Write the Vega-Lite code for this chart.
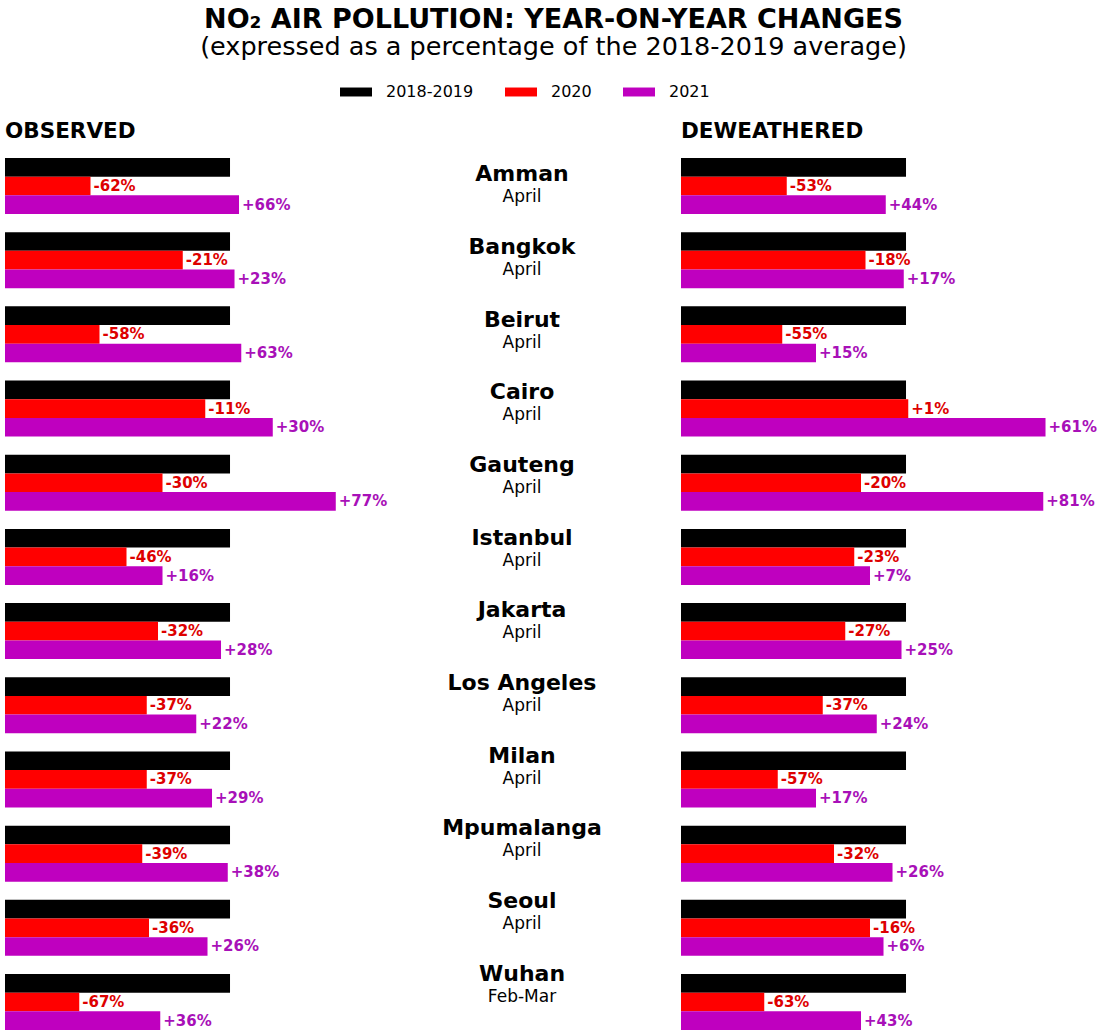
{
  "$schema": "https://vega.github.io/schema/vega-lite/v6.json",
  "autosize": {"type": "pad"},
  "padding": {"left": 5, "top": 5, "right": 0, "bottom": 0},
  "bounds": "flush",
  "spacing": 0,
  "config": {
    "view": {"stroke": null},
    "font": "DejaVu Sans",
    "concat": {"spacing": 0}
  },
  "title": {
    "text": "NO₂ AIR POLLUTION: YEAR-ON-YEAR CHANGES",
    "subtitle": "(expressed as a percentage of the 2018-2019 average)",
    "font": "DejaVu Sans",
    "fontSize": 27,
    "fontWeight": "bold",
    "color": "#000000",
    "subtitleFont": "DejaVu Sans",
    "subtitleFontSize": 25.5,
    "subtitleColor": "#000000",
    "subtitlePadding": 1,
    "anchor": "middle",
    "offset": 15
  },
  "datasets": {
    "bars": [
      {"panel": "Observed", "city": "Amman", "series": "2018-2019", "value": 100, "label": ""},
      {"panel": "Observed", "city": "Amman", "series": "2020", "value": 38, "label": "-62%"},
      {"panel": "Observed", "city": "Amman", "series": "2021", "value": 104, "label": "+66%"},
      {"panel": "Observed", "city": "Bangkok", "series": "2018-2019", "value": 100, "label": ""},
      {"panel": "Observed", "city": "Bangkok", "series": "2020", "value": 79, "label": "-21%"},
      {"panel": "Observed", "city": "Bangkok", "series": "2021", "value": 102, "label": "+23%"},
      {"panel": "Observed", "city": "Beirut", "series": "2018-2019", "value": 100, "label": ""},
      {"panel": "Observed", "city": "Beirut", "series": "2020", "value": 42, "label": "-58%"},
      {"panel": "Observed", "city": "Beirut", "series": "2021", "value": 105, "label": "+63%"},
      {"panel": "Observed", "city": "Cairo", "series": "2018-2019", "value": 100, "label": ""},
      {"panel": "Observed", "city": "Cairo", "series": "2020", "value": 89, "label": "-11%"},
      {"panel": "Observed", "city": "Cairo", "series": "2021", "value": 119, "label": "+30%"},
      {"panel": "Observed", "city": "Gauteng", "series": "2018-2019", "value": 100, "label": ""},
      {"panel": "Observed", "city": "Gauteng", "series": "2020", "value": 70, "label": "-30%"},
      {"panel": "Observed", "city": "Gauteng", "series": "2021", "value": 147, "label": "+77%"},
      {"panel": "Observed", "city": "Istanbul", "series": "2018-2019", "value": 100, "label": ""},
      {"panel": "Observed", "city": "Istanbul", "series": "2020", "value": 54, "label": "-46%"},
      {"panel": "Observed", "city": "Istanbul", "series": "2021", "value": 70, "label": "+16%"},
      {"panel": "Observed", "city": "Jakarta", "series": "2018-2019", "value": 100, "label": ""},
      {"panel": "Observed", "city": "Jakarta", "series": "2020", "value": 68, "label": "-32%"},
      {"panel": "Observed", "city": "Jakarta", "series": "2021", "value": 96, "label": "+28%"},
      {"panel": "Observed", "city": "Los Angeles", "series": "2018-2019", "value": 100, "label": ""},
      {"panel": "Observed", "city": "Los Angeles", "series": "2020", "value": 63, "label": "-37%"},
      {"panel": "Observed", "city": "Los Angeles", "series": "2021", "value": 85, "label": "+22%"},
      {"panel": "Observed", "city": "Milan", "series": "2018-2019", "value": 100, "label": ""},
      {"panel": "Observed", "city": "Milan", "series": "2020", "value": 63, "label": "-37%"},
      {"panel": "Observed", "city": "Milan", "series": "2021", "value": 92, "label": "+29%"},
      {"panel": "Observed", "city": "Mpumalanga", "series": "2018-2019", "value": 100, "label": ""},
      {"panel": "Observed", "city": "Mpumalanga", "series": "2020", "value": 61, "label": "-39%"},
      {"panel": "Observed", "city": "Mpumalanga", "series": "2021", "value": 99, "label": "+38%"},
      {"panel": "Observed", "city": "Seoul", "series": "2018-2019", "value": 100, "label": ""},
      {"panel": "Observed", "city": "Seoul", "series": "2020", "value": 64, "label": "-36%"},
      {"panel": "Observed", "city": "Seoul", "series": "2021", "value": 90, "label": "+26%"},
      {"panel": "Observed", "city": "Wuhan", "series": "2018-2019", "value": 100, "label": ""},
      {"panel": "Observed", "city": "Wuhan", "series": "2020", "value": 33, "label": "-67%"},
      {"panel": "Observed", "city": "Wuhan", "series": "2021", "value": 69, "label": "+36%"},
      {"panel": "Deweathered", "city": "Amman", "series": "2018-2019", "value": 100, "label": ""},
      {"panel": "Deweathered", "city": "Amman", "series": "2020", "value": 47, "label": "-53%"},
      {"panel": "Deweathered", "city": "Amman", "series": "2021", "value": 91, "label": "+44%"},
      {"panel": "Deweathered", "city": "Bangkok", "series": "2018-2019", "value": 100, "label": ""},
      {"panel": "Deweathered", "city": "Bangkok", "series": "2020", "value": 82, "label": "-18%"},
      {"panel": "Deweathered", "city": "Bangkok", "series": "2021", "value": 99, "label": "+17%"},
      {"panel": "Deweathered", "city": "Beirut", "series": "2018-2019", "value": 100, "label": ""},
      {"panel": "Deweathered", "city": "Beirut", "series": "2020", "value": 45, "label": "-55%"},
      {"panel": "Deweathered", "city": "Beirut", "series": "2021", "value": 60, "label": "+15%"},
      {"panel": "Deweathered", "city": "Cairo", "series": "2018-2019", "value": 100, "label": ""},
      {"panel": "Deweathered", "city": "Cairo", "series": "2020", "value": 101, "label": "+1%"},
      {"panel": "Deweathered", "city": "Cairo", "series": "2021", "value": 162, "label": "+61%"},
      {"panel": "Deweathered", "city": "Gauteng", "series": "2018-2019", "value": 100, "label": ""},
      {"panel": "Deweathered", "city": "Gauteng", "series": "2020", "value": 80, "label": "-20%"},
      {"panel": "Deweathered", "city": "Gauteng", "series": "2021", "value": 161, "label": "+81%"},
      {"panel": "Deweathered", "city": "Istanbul", "series": "2018-2019", "value": 100, "label": ""},
      {"panel": "Deweathered", "city": "Istanbul", "series": "2020", "value": 77, "label": "-23%"},
      {"panel": "Deweathered", "city": "Istanbul", "series": "2021", "value": 84, "label": "+7%"},
      {"panel": "Deweathered", "city": "Jakarta", "series": "2018-2019", "value": 100, "label": ""},
      {"panel": "Deweathered", "city": "Jakarta", "series": "2020", "value": 73, "label": "-27%"},
      {"panel": "Deweathered", "city": "Jakarta", "series": "2021", "value": 98, "label": "+25%"},
      {"panel": "Deweathered", "city": "Los Angeles", "series": "2018-2019", "value": 100, "label": ""},
      {"panel": "Deweathered", "city": "Los Angeles", "series": "2020", "value": 63, "label": "-37%"},
      {"panel": "Deweathered", "city": "Los Angeles", "series": "2021", "value": 87, "label": "+24%"},
      {"panel": "Deweathered", "city": "Milan", "series": "2018-2019", "value": 100, "label": ""},
      {"panel": "Deweathered", "city": "Milan", "series": "2020", "value": 43, "label": "-57%"},
      {"panel": "Deweathered", "city": "Milan", "series": "2021", "value": 60, "label": "+17%"},
      {"panel": "Deweathered", "city": "Mpumalanga", "series": "2018-2019", "value": 100, "label": ""},
      {"panel": "Deweathered", "city": "Mpumalanga", "series": "2020", "value": 68, "label": "-32%"},
      {"panel": "Deweathered", "city": "Mpumalanga", "series": "2021", "value": 94, "label": "+26%"},
      {"panel": "Deweathered", "city": "Seoul", "series": "2018-2019", "value": 100, "label": ""},
      {"panel": "Deweathered", "city": "Seoul", "series": "2020", "value": 84, "label": "-16%"},
      {"panel": "Deweathered", "city": "Seoul", "series": "2021", "value": 90, "label": "+6%"},
      {"panel": "Deweathered", "city": "Wuhan", "series": "2018-2019", "value": 100, "label": ""},
      {"panel": "Deweathered", "city": "Wuhan", "series": "2020", "value": 37, "label": "-63%"},
      {"panel": "Deweathered", "city": "Wuhan", "series": "2021", "value": 80, "label": "+43%"}
    ],
    "cities": [
      {"city": "Amman", "month": "April"},
      {"city": "Bangkok", "month": "April"},
      {"city": "Beirut", "month": "April"},
      {"city": "Cairo", "month": "April"},
      {"city": "Gauteng", "month": "April"},
      {"city": "Istanbul", "month": "April"},
      {"city": "Jakarta", "month": "April"},
      {"city": "Los Angeles", "month": "April"},
      {"city": "Milan", "month": "April"},
      {"city": "Mpumalanga", "month": "April"},
      {"city": "Seoul", "month": "April"},
      {"city": "Wuhan", "month": "Feb-Mar"}
    ]
  },
  "hconcat": [
    {
      "width": 358,
      "height": 872,
      "title": {"text": "OBSERVED", "anchor": "start", "fontSize": 21.5, "fontWeight": "bold", "color": "#000000", "font": "DejaVu Sans", "offset": 16},
      "data": {"name": "bars"},
      "transform": [{"filter": "datum.panel == 'Observed'"}],
      "layer": [
        {
          "mark": {"type": "bar"},
          "encoding": {
            "y": {"field": "city", "type": "nominal", "sort": null, "axis": null, "scale": {"paddingInner": 0.245, "paddingOuter": 0}},
            "yOffset": {"field": "series", "type": "nominal", "scale": {"paddingInner": 0, "paddingOuter": 0}},
            "x": {"field": "value", "type": "quantitative", "axis": null, "scale": {"domain": [0, 159.1], "nice": false}},
            "color": {"field": "series", "type": "nominal", "scale": {"domain": ["2018-2019", "2020", "2021"], "range": ["#000000", "#ff0000", "#bf00bf"]},
              "legend": {"orient": "none", "legendX": 335, "legendY": -82, "direction": "horizontal", "title": null, "symbolType": "M-1,-0.28H1V0.28H-1Z", "symbolSize": 1024, "symbolStrokeWidth": 0, "labelFontSize": 16, "labelFont": "DejaVu Sans", "labelColor": "#000000", "labelOffset": 14, "columnPadding": 31, "padding": 0}}
          }
        },
        {
          "transform": [{"filter": "datum.label != ''"}],
          "mark": {"type": "text", "align": "left", "baseline": "middle", "dx": 3, "fontSize": 15, "fontWeight": "bold", "font": "DejaVu Sans"},
          "encoding": {
            "y": {"field": "city", "type": "nominal", "sort": null},
            "yOffset": {"field": "series", "type": "nominal"},
            "x": {"field": "value", "type": "quantitative"},
            "text": {"field": "label"},
            "fill": {"field": "series", "type": "nominal", "legend": null, "scale": {"domain": ["2020", "2021"], "range": ["#dd0000", "#a810b8"]}}
          }
        }
      ]
    },
    {
      "width": 318,
      "height": 872,
      "data": {"name": "cities"},
      "layer": [
        {
          "mark": {"type": "text", "baseline": "middle", "align": "center", "dy": -20, "fontSize": 22, "fontWeight": "bold", "font": "DejaVu Sans", "color": "#000000"},
          "encoding": {
            "y": {"field": "city", "type": "nominal", "sort": null, "axis": null, "scale": {"paddingInner": 0.245, "paddingOuter": 0}},
            "text": {"field": "city"}
          }
        },
        {
          "mark": {"type": "text", "baseline": "middle", "align": "center", "dy": 3, "fontSize": 17, "font": "DejaVu Sans", "color": "#000000"},
          "encoding": {
            "y": {"field": "city", "type": "nominal", "sort": null},
            "text": {"field": "month"}
          }
        }
      ]
    },
    {
      "width": 421,
      "height": 872,
      "title": {"text": "DEWEATHERED", "anchor": "start", "fontSize": 21.5, "fontWeight": "bold", "color": "#000000", "font": "DejaVu Sans", "offset": 16},
      "data": {"name": "bars"},
      "transform": [{"filter": "datum.panel == 'Deweathered'"}],
      "layer": [
        {
          "mark": {"type": "bar"},
          "encoding": {
            "y": {"field": "city", "type": "nominal", "sort": null, "axis": null, "scale": {"paddingInner": 0.245, "paddingOuter": 0}},
            "yOffset": {"field": "series", "type": "nominal", "scale": {"paddingInner": 0, "paddingOuter": 0}},
            "x": {"field": "value", "type": "quantitative", "axis": null, "scale": {"domain": [0, 187.1], "nice": false}},
            "color": {"field": "series", "type": "nominal", "scale": {"domain": ["2018-2019", "2020", "2021"], "range": ["#000000", "#ff0000", "#bf00bf"]}}
          }
        },
        {
          "transform": [{"filter": "datum.label != ''"}],
          "mark": {"type": "text", "align": "left", "baseline": "middle", "dx": 3, "fontSize": 15, "fontWeight": "bold", "font": "DejaVu Sans"},
          "encoding": {
            "y": {"field": "city", "type": "nominal", "sort": null},
            "yOffset": {"field": "series", "type": "nominal"},
            "x": {"field": "value", "type": "quantitative"},
            "text": {"field": "label"},
            "fill": {"field": "series", "type": "nominal", "legend": null, "scale": {"domain": ["2020", "2021"], "range": ["#dd0000", "#a810b8"]}}
          }
        }
      ]
    }
  ]
}
